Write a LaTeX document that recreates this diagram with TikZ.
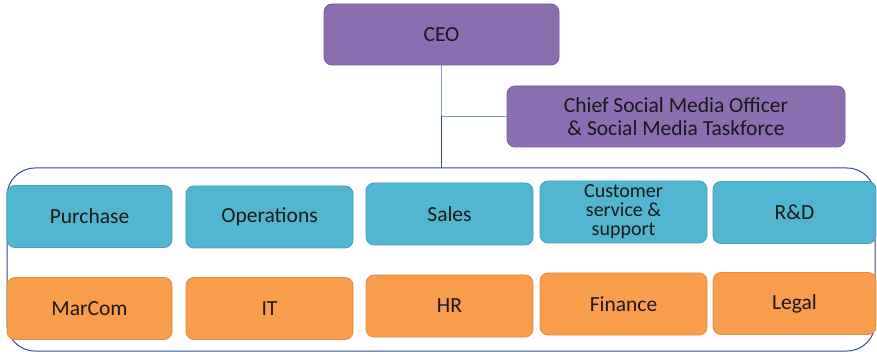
\documentclass[tikz,border=0pt]{standalone}
\usepackage{fontspec}
\setmainfont{Carlito}
\definecolor{purp}{RGB}{139,110,176}
\definecolor{purpd}{RGB}{118,92,156}
\definecolor{bluef}{RGB}{82,182,208}
\definecolor{blued}{RGB}{66,160,186}
\definecolor{orgf}{RGB}{247,157,76}
\definecolor{orgd}{RGB}{228,138,60}
\definecolor{linelight}{RGB}{120,155,200}
\definecolor{linedark}{RGB}{50,80,140}
\definecolor{txt}{RGB}{25,25,25}
\tikzset{
  box/.style={rounded corners=8pt, draw=#1, line width=0.8pt, align=center,
    text=txt, font=\fontsize{21.5}{23}\selectfont, inner sep=1pt},
  pbox/.style={box=purpd, fill=purp},
  bbox/.style={box=blued, fill=bluef, minimum height=62pt},
  obox/.style={box=orgd, fill=orgf, minimum height=62pt},
  lightline/.style={draw=linelight, line width=1pt},
  darkline/.style={draw=linedark, line width=1pt}
}
\begin{document}
\begin{tikzpicture}[x=1pt,y=-1pt]
\useasboundingbox (0,0) rectangle (877,352);
% outer container
\draw[darkline, rounded corners=28pt] (7,168) rectangle (875,351);
% top nodes
\node[pbox, minimum width=235pt, minimum height=61pt] (ceo) at (441.5,34.5) {CEO};
\node[pbox, minimum width=338pt, minimum height=61pt] (cso) at (676,116.5) {Chief Social Media Officer\\ \& Social Media Taskforce};
% connectors
\coordinate (j) at (ceo.south |- cso.west);
\coordinate (ct) at (ceo.south |- 0,168);
\draw[lightline] (ceo.south) -- (j) -- (cso.west);
\draw[darkline] (j) -- (ct);
% blue row
\node[bbox, minimum width=165pt] (pur) at (89.5,216.5) {Purchase};
\node[bbox, minimum width=167pt] (ops) at (269.5,217) {Operations};
\node[bbox, minimum width=167pt] (sal) at (449.5,214) {Sales};
\node[bbox, minimum width=167pt, font=\fontsize{20}{19}\selectfont] (cus) at (623.5,212) {Customer\\service \&\\support};
\node[bbox, minimum width=163pt] (rd) at (794.5,212.5) {R\&D};
% orange row
\node[obox, minimum width=165pt] (mar) at (89.5,308.5) {MarCom};
\node[obox, minimum width=167pt] (it) at (269.5,308.5) {IT};
\node[obox, minimum width=167pt] (hr) at (449.5,306) {HR};
\node[obox, minimum width=167pt] (fin) at (623.5,304) {Finance};
\node[obox, minimum width=163pt] (leg) at (794.5,303.5) {Legal};
\end{tikzpicture}
\end{document}
